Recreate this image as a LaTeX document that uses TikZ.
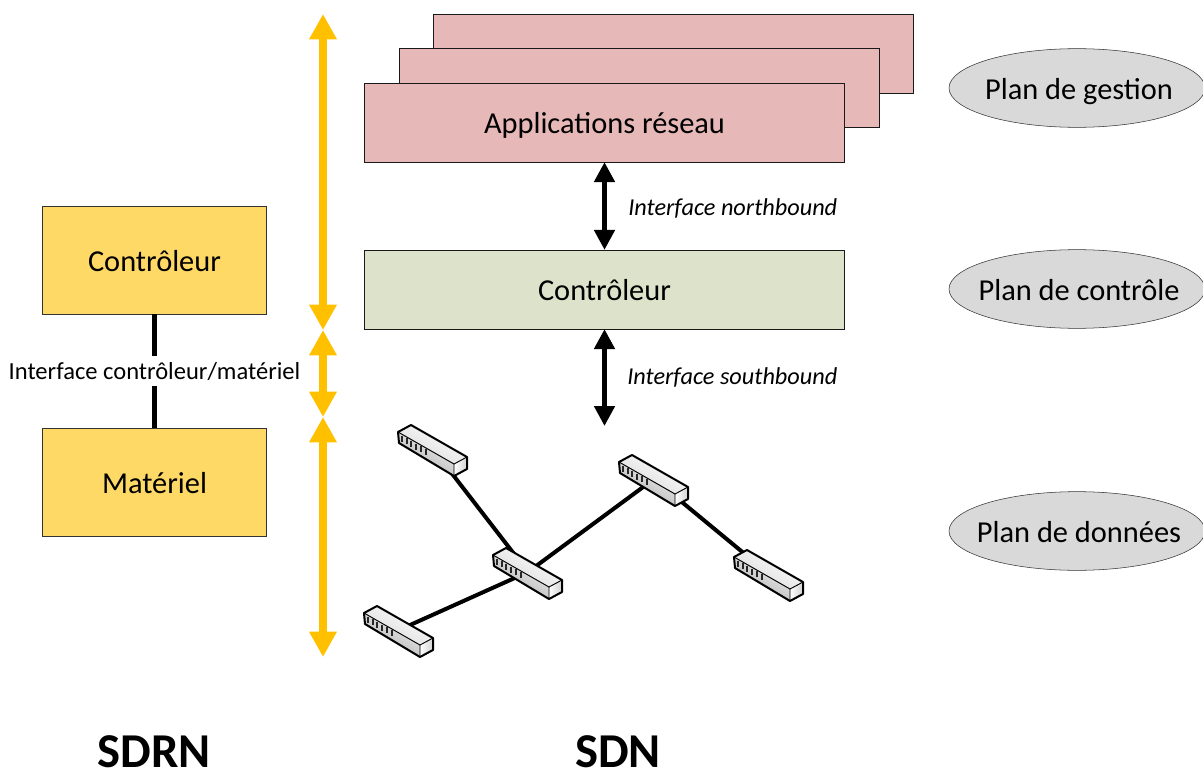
\documentclass[tikz,border=0pt]{standalone}
\usepackage{fontspec}
\setmainfont{Carlito}
\definecolor{AppRed}{RGB}{230, 184, 183}
\definecolor{CtrlGreen}{RGB}{221, 227, 203}
\definecolor{BoxYellow}{RGB}{255, 217, 102}
\definecolor{ArrowGold}{RGB}{255, 192, 0}
\definecolor{PlanGray}{RGB}{217, 217, 217}
\usetikzlibrary{arrows.meta, positioning, shapes.geometric}

\begin{document}
\begin{tikzpicture}[x=0.75pt, y=-0.75pt]
        % --- Styles ---
        \tikzstyle{boxtext}=[font=\fontsize{22.8}{27}\selectfont, text height=20pt, text depth=3.5pt]
        \tikzstyle{appbox}=[boxtext, draw=black!90, fill=AppRed, minimum width=360pt, minimum height=59pt, inner sep=0pt]
        \tikzstyle{ctrlbox}=[appbox, fill=CtrlGreen]
        \tikzstyle{yellowbox}=[boxtext, draw=black!80, fill=BoxYellow, minimum width=168pt, minimum height=81pt, inner sep=0pt]
        \tikzstyle{planoval}=[boxtext, ellipse, draw=black!80, fill=PlanGray, minimum width=192pt, minimum height=59pt, inner ysep=0pt, inner xsep=-16pt]
        \tikzstyle{goldarrow}=[{Triangle[width=19.5pt,length=19pt]}-{Triangle[width=19.5pt,length=19pt]}, line width=6pt, ArrowGold]
        \tikzstyle{blackarrow}=[{Triangle[width=15pt,length=15pt]}-{Triangle[width=15pt,length=15pt]}, line width=3.6pt, black]
        \tikzstyle{iflabel}=[font=\fontsize{18.2}{22}\selectfont\itshape, anchor=west, inner sep=0pt]
        \tikzstyle{titlelabel}=[font=\fontsize{36.5}{40}\selectfont\bfseries, inner sep=0pt]
        \tikzstyle{netlink}=[line width=3pt, black]
        \tikzset{
          switchbox/.pic={
            \shade[top color=white, bottom color=black!15, shading angle=-30] (-35,-17) -- (-22,-24) -- (34,8) -- (21,15) -- cycle;
            \shade[left color=white, right color=black!18] (21,15) -- (34,8) -- (34,20) -- (21,27) -- cycle;
            \shade[top color=black!5, bottom color=black!32, shading angle=-30] (-35,-17) -- (21,15) -- (21,27) -- (-34,-6) -- cycle;
            \draw[line width=1.5pt, line join=round] (-35,-17) -- (-22,-24) -- (34,8) -- (34,20) -- (21,27) -- (-34,-6) -- cycle;
            \draw[line width=0.7pt] (-35,-17) -- (21,15) -- (34,8) (21,15) -- (21,27);
            \foreach \k in {0,...,5}
              \draw[line width=1.5pt, black!85] (-31+\k*4.7,-13.5+\k*2.7) -- ++(0,6);
          }
        }
        \useasboundingbox (0,0) rectangle (1203,774);

        % --- 1. SDRN (left) ---
        \node[yellowbox] (ctrlleft) at (154.5,260) {Contrôleur};
        \node[yellowbox] (hwleft) at (154.5,482) {Matériel};
        \draw[line width=3.8pt] (ctrlleft) -- (hwleft) node[midway, fill=white, inner sep=0pt, minimum height=22.5pt, text height=15pt, text depth=3pt, font=\fontsize{18.4}{22}\selectfont] (ifleft) {Interface contrôleur/matériel};
        \node[titlelabel] (sdrn) at (154,752) {SDRN};

        % --- 2. Gold arrows ---
        \coordinate (gold0) at (323,14);
        \coordinate (gold1) at (323,330);
        \coordinate (gold2) at (323,417);
        \coordinate (gold3) at (323,657);
        \draw[goldarrow] (gold0) -- (gold1);
        \draw[goldarrow] (gold1) -- (gold2);
        \draw[goldarrow] (gold2) -- (gold3);

        % --- 3. SDN (right) ---
        \node[appbox] (appsback) at (673.5,53.5) {};
        \node[appbox] (appsmid) at (639,88) {};
        \node[appbox] (apps) at (604.5,122.5) {Applications réseau};
        \node[ctrlbox] (ctrl) at (604.5,289.5) {Contrôleur};
        \coordinate (nettop) at (604.5,426);
        \draw[blackarrow] (apps) -- (ctrl);
        \draw[blackarrow] (ctrl) -- (nettop);
        \node[iflabel] (ifnorth) at (628,208.5) {Interface northbound};
        \node[iflabel] (ifsouth) at (627,377.5) {Interface southbound};
        \node[titlelabel] (sdn) at (618,752) {SDN};

        % --- 4. Switches ---
        \coordinate (swa) at (433,449);
        \coordinate (swb) at (528,572);
        \coordinate (swc) at (399,630);
        \coordinate (swd) at (654,479);
        \coordinate (swe) at (769,574);
        \draw[netlink] (swa) -- (swb);
        \draw[netlink] (swc) -- (swb);
        \draw[netlink] (swb) -- (swd);
        \draw[netlink] (swd) -- (swe);
        \foreach \sw in {swa,swb,swc,swd,swe}
          \pic at (\sw) {switchbox};

        % --- 5. Planes ---
        \node[planoval] (gestion) at (1077,88) {\hspace*{3pt}Plan de gestion};
        \node[planoval] (controle) at (1077,289) {\hspace*{3pt}Plan de contrôle};
        \node[planoval] (donnees) at (1077,531) {\hspace*{3pt}Plan de données};
\end{tikzpicture}
\end{document}
